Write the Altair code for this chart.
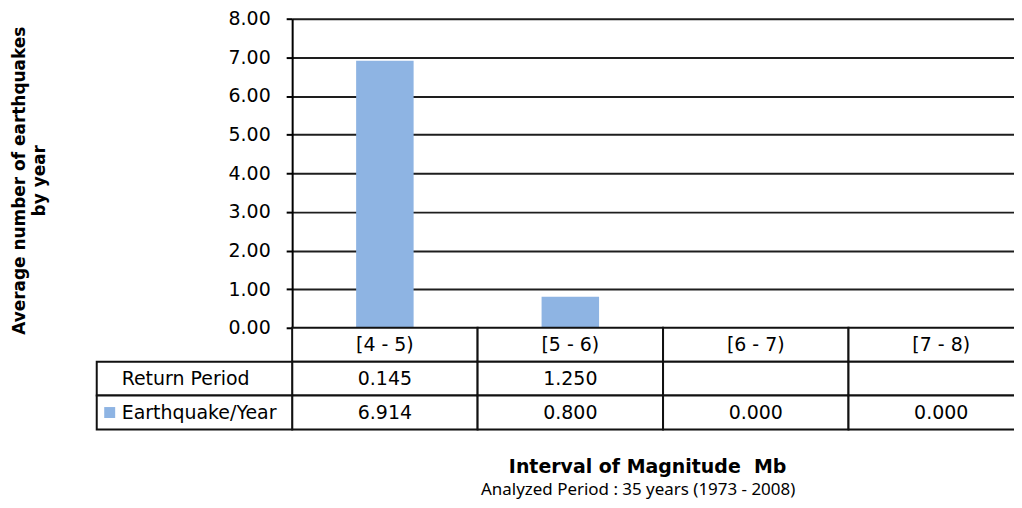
import altair as alt
import pandas as pd

categories = ["[4 - 5)", "[5 - 6)", "[6 - 7)", "[7 - 8)"]
earthquakes_per_year = [6.914, 0.800, 0.000, 0.000]
return_period = [0.145, 1.250, None, None]
y_ticks = [0, 1, 2, 3, 4, 5, 6, 7, 8]
row_names = ["Return Period", "Earthquake/Year"]

BLUE = "#8EB4E3"
FONT = "DejaVu Sans"
FS = 19
W = 744

bars_df = pd.DataFrame({"cat": categories, "value": earthquakes_per_year})
x_scale = alt.Scale(domain=categories, paddingInner=0, paddingOuter=0)

top = alt.Chart(bars_df).mark_bar(color=BLUE, width=alt.RelativeBandSize(0.31)).encode(
    x=alt.X("cat:N", scale=x_scale, axis=None, sort=categories),
    y=alt.Y(
        "value:Q",
        scale=alt.Scale(domain=[0, 8], nice=False),
        axis=alt.Axis(
            values=y_ticks, format=".2f",
            title=["Average number of earthquakes", "by year"],
            titleFont=FONT, titleFontSize=17, titleFontWeight="bold", titlePadding=180,
            titleLineHeight=20, titleColor="black", titleY=162,
            labelFont=FONT, labelFontSize=FS, labelPadding=16, labelColor="black",
            tickSize=6, tickColor="black", tickWidth=2,
            domainColor="black", domainWidth=2,
            grid=True, gridColor="#1e1e1e", gridWidth=2,
        ),
    ),
).properties(width=W, height=310)

# table data
rows = ["head"] + row_names
cells = []
for i, c in enumerate(categories):
    cells.append({"row": "head", "cat": c, "text": c})
    rp = return_period[i]
    cells.append({"row": "Return Period", "cat": c, "text": "" if rp is None else f"{rp:.3f}"})
    cells.append({"row": "Earthquake/Year", "cat": c, "text": f"{earthquakes_per_year[i]:.3f}"})
cells_df = pd.DataFrame(cells)
labels_df = pd.DataFrame({"row": row_names})

y_rows = alt.Y("row:N", scale=alt.Scale(domain=rows, paddingInner=0, paddingOuter=0), axis=None)
x_cells = alt.X(
    "cat:N", scale=x_scale, sort=categories,
    axis=alt.Axis(
        labels=False, ticks=False, domain=False,
        title="Interval of Magnitude\u00a0 Mb",
        titleFont=FONT, titleFontSize=19, titleFontWeight="bold", titlePadding=28,
        titleColor="black", titleX=356,
    ),
)

cell_rects = alt.Chart(cells_df).mark_rect(fill="white", stroke="#111", strokeWidth=2).encode(
    x=x_cells, y=y_rows
)
cell_text = alt.Chart(cells_df).mark_text(font=FONT, fontSize=FS, color="black").encode(
    x=alt.X("cat:N", scale=x_scale, sort=categories), y=y_rows, text="text:N"
)
label_rects = alt.Chart(labels_df).mark_rect(fill="white", stroke="#111", strokeWidth=2).encode(
    x=alt.value(-196), x2=alt.value(0), y=y_rows
)
label_text = alt.Chart(labels_df).mark_text(
    font=FONT, fontSize=FS, color="black", align="left"
).encode(x=alt.value(-171), y=y_rows, text="row:N")
legend_sq = alt.Chart(labels_df).transform_filter(
    alt.datum.row == "Earthquake/Year"
).mark_square(color=BLUE, size=121, opacity=1).encode(x=alt.value(-183), y=y_rows)

bottom = alt.layer(cell_rects, label_rects, cell_text, label_text, legend_sq).properties(
    width=W, height=102,
    title=alt.TitleParams(
        "Analyzed Period : 35 years (1973 - 2008)", orient="bottom", anchor="middle",
        font="Noto Sans", fontSize=17, fontWeight="normal", color="black", offset=6, dx=-25,
    ),
)

chart = alt.vconcat(top, bottom, spacing=0, bounds="flush").properties(
    padding={"left": 2, "top": 0, "right": -22, "bottom": 0}
).configure_view(stroke=None).configure(background="white")

chart.save("out.html", embed_options={"renderer": "svg", "actions": False})
